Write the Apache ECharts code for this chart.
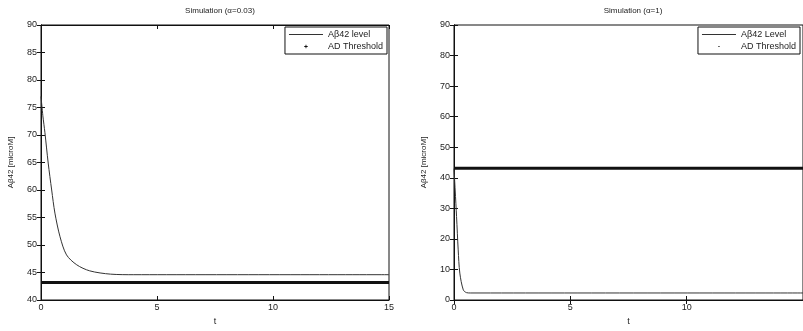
<!DOCTYPE html>
<html>
<head>
<meta charset="utf-8">
<script src="https://cdn.jsdelivr.net/npm/echarts@6/dist/echarts.min.js"></script>
<style>
  html, body { margin: 0; padding: 0; background: #fff; }
  #chart { width: 803px; height: 331px; }
</style>
</head>
<body>
<div id="chart"></div>
<script>
// left panel (alpha = 0.03)
const tLeft = [0, 0.08, 0.17, 0.31, 0.46, 0.6, 0.82, 1.1, 1.54, 2.1, 3, 4, 15];
const abLeft = [77, 73.5, 70.4, 64.9, 60, 55.8, 51.5, 48.2, 46.4, 45.3, 44.7, 44.6, 44.6];
// right panel (alpha = 1)
const tRight = [0, 0.05, 0.11, 0.18, 0.25, 0.4, 0.54, 0.7, 15];
const abRight = [43, 36, 27.3, 16.4, 8.8, 3.3, 2.4, 2.3, 2.3];
// AD threshold
const tThr = [0, 15];
const thrLeft = [43.2, 43.2];
const thrRight = [43.1, 43.1];

const yTicksLeft = { min: 40, max: 90, interval: 5 };
const yTicksRight = { min: 0, max: 90, interval: 10 };

const pairs = (xs, ys) => xs.map((x, i) => [x, ys[i]]);

const font = 'Liberation Sans';
const txt = '#222';
const plusIcon = 'path://M0,0h0.01v0.01h-0.01zM7,7h0.01v0.01h-0.01zM3,1.5H4V3H5.5V4H4V5.5H3V4H1.5V3H3Z';
const dotIcon = 'path://M0,0h0.01v0.01h-0.01zM7,7h0.01v0.01h-0.01zM2.8,2.8H4.2V4.2H2.8Z';
const lineIcon = 'path://M0,0H40V1H0Z';

function xAx(grid, bottom, hideMax) {
  return {
    type: 'value', gridIndex: grid, min: 0, max: 15, interval: 5,
    position: bottom ? 'bottom' : 'top',
    name: bottom ? 't' : '', nameLocation: 'middle', nameGap: 17,
    nameTextStyle: { fontFamily: font, fontSize: 9, color: txt },
    axisLine: { show: true, lineStyle: { color: '#111', width: 1 } },
    axisTick: { show: true, inside: true, length: 4, lineStyle: { color: '#111' } },
    axisLabel: { show: bottom, margin: 3, fontFamily: font, fontSize: 9, color: txt, showMaxLabel: !hideMax },
    splitLine: { show: false }
  };
}
function yAx(grid, t, left) {
  return {
    type: 'value', gridIndex: grid, min: t.min, max: t.max, interval: t.interval,
    position: left ? 'left' : 'right',
    name: left ? 'Aβ42 [microM]' : '', nameLocation: 'middle', nameGap: 26,
    nameTextStyle: { fontFamily: font, fontSize: 8, color: txt },
    axisLine: { show: true, lineStyle: { color: '#111', width: 1 } },
    axisTick: { show: true, inside: true, length: 4, lineStyle: { color: '#111' } },
    axisLabel: { show: left, margin: 4, fontFamily: font, fontSize: 9, color: txt },
    splitLine: { show: false }
  };
}
function legend(names, icon, right) {
  return {
    orient: 'vertical', top: 27, right: right, align: 'left',
    padding: [3, 4, 3, 4], itemGap: 3, itemWidth: 34, itemHeight: 6,
    borderColor: '#111', borderWidth: 1, backgroundColor: '#fff',
    textStyle: { fontFamily: font, fontSize: 9, color: txt },
    data: [{ name: names[0], icon: lineIcon }, { name: names[1], icon: icon }]
  };
}

const chart = echarts.init(document.getElementById('chart'), null, { renderer: 'canvas' });
chart.setOption({
  animation: false,
  backgroundColor: '#fff',
  title: [
    { text: 'Simulation (α=0.03)', left: 215, top: 2, textAlign: 'center',
      textStyle: { fontFamily: font, fontSize: 8, fontWeight: 'normal', color: txt } },
    { text: 'Simulation (α=1)', left: 628, top: 2, textAlign: 'center',
      textStyle: { fontFamily: font, fontSize: 8, fontWeight: 'normal', color: txt } }
  ],
  legend: [
    legend(['Aβ42 level', 'AD Threshold'], plusIcon, 416),
    legend(['Aβ42 Level', 'AD Threshold'], dotIcon, 3)
  ],
  grid: [
    { left: 41, top: 25, width: 348, bottom: 31, show: true, borderColor: '#111', borderWidth: 1 },
    { left: 454, top: 25, width: 352, bottom: 30, show: true, borderColor: '#111', borderWidth: 1 }
  ],
  xAxis: [xAx(0, true), xAx(0, false), xAx(1, true, true), xAx(1, false)],
  yAxis: [yAx(0, yTicksLeft, true), yAx(0, yTicksLeft, false), yAx(1, yTicksRight, true), yAx(1, yTicksRight, false)],
  series: [
    { name: 'Aβ42 level', type: 'line', xAxisIndex: 0, yAxisIndex: 0, data: pairs(tLeft, abLeft),
      smooth: 0.3, showSymbol: false, color: '#333', lineStyle: { width: 1, color: '#333' } },
    { name: 'AD Threshold', type: 'line', xAxisIndex: 0, yAxisIndex: 0, data: pairs(tThr, thrLeft),
      showSymbol: false, color: '#111', lineStyle: { width: 3, color: '#111' } },
    { name: 'Aβ42 Level', type: 'line', xAxisIndex: 2, yAxisIndex: 2, data: pairs(tRight, abRight),
      smooth: 0.3, showSymbol: false, color: '#333', lineStyle: { width: 1, color: '#333' } },
    { name: 'AD Threshold', type: 'line', xAxisIndex: 2, yAxisIndex: 2, data: pairs(tThr, thrRight),
      showSymbol: false, color: '#111', lineStyle: { width: 3, color: '#111' } }
  ]
});
</script>
</body>
</html>
